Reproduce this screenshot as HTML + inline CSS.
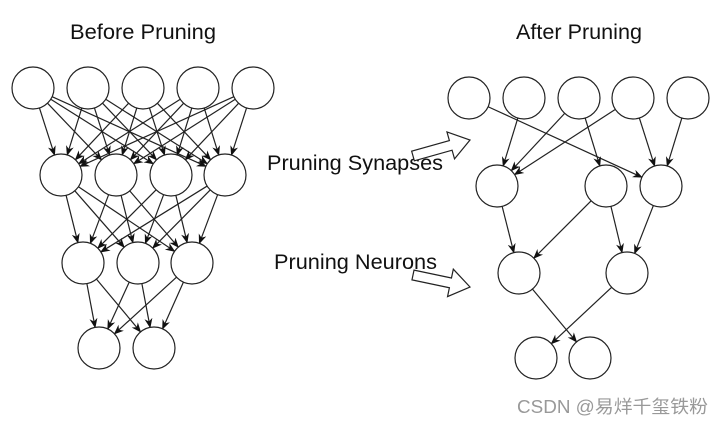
<!DOCTYPE html>
<html><head><meta charset="utf-8"><style>
html,body{margin:0;padding:0;background:#fff;}
svg{display:block;}
text{font-family:"Liberation Sans","Noto Sans CJK SC",sans-serif;}
</style></head><body>
<svg id="s" width="723" height="425" viewBox="0 0 723 425" xmlns="http://www.w3.org/2000/svg">
<defs><marker id="a" markerWidth="10" markerHeight="10" refX="9" refY="5" orient="auto" markerUnits="userSpaceOnUse"><path d="M0,1 L10,5 L0,9 L3,5 Z" fill="#111"/></marker></defs>
<text x="143" y="39" font-size="21" text-anchor="middle" fill="#111" textLength="146" lengthAdjust="spacingAndGlyphs">Before Pruning</text>
<text x="579" y="39" font-size="21" text-anchor="middle" fill="#111" textLength="126" lengthAdjust="spacingAndGlyphs">After Pruning</text>
<text x="267" y="170" font-size="21" fill="#111" textLength="176" lengthAdjust="spacingAndGlyphs">Pruning Synapses</text>
<text x="274" y="269" font-size="21" fill="#111" textLength="163" lengthAdjust="spacingAndGlyphs">Pruning Neurons</text>
<text x="517" y="413" font-size="18" fill="#999" textLength="191" lengthAdjust="spacingAndGlyphs">CSDN @易烊千玺铁粉</text>
<g id="g" stroke="#222" fill="none" stroke-width="1.2"></g>
</svg>
<script>
var g=document.getElementById('g'),NS='http://www.w3.org/2000/svg',R=21;
function el(n,a){var e=document.createElementNS(NS,n);for(var k in a)e.setAttribute(k,a[k]);g.appendChild(e);return e;}
function hollow(x1,y1,x2,y2){var dx=x2-x1,dy=y2-y1,L=Math.hypot(dx,dy),ux=dx/L,uy=dy/L,nx=-uy,ny=ux,hl=20,sw=5,hw=14;
var bx=x2-ux*hl,by=y2-uy*hl;var p=[[x1+nx*sw,y1+ny*sw],[bx+nx*sw,by+ny*sw],[bx+nx*hw,by+ny*hw],[x2,y2],[bx-nx*hw,by-ny*hw],[bx-nx*sw,by-ny*sw],[x1-nx*sw,y1-ny*sw]];
el('polygon',{points:p.map(function(q){return q.join(',')}).join(' '),fill:'#fff'});}
function edge(a,b){var dx=b[0]-a[0],dy=b[1]-a[1],L=Math.hypot(dx,dy),ux=dx/L,uy=dy/L;
el('line',{x1:a[0]+ux*R,y1:a[1]+uy*R,x2:b[0]-ux*R,y2:b[1]-uy*R,'marker-end':'url(#a)'});}
var L1=[[33,88],[88,88],[143,88],[198,88],[253,88]],L2=[[61,175],[116,175],[171,175],[225,175]],L3=[[83,263],[138,263],[192,263]],L4=[[99,348],[154,348]];
[[L1,L2],[L2,L3],[L3,L4]].forEach(function(p){p[0].forEach(function(a){p[1].forEach(function(b){edge(a,b);});});});
var T=[[469,98],[524,98],[579,98],[633,98],[688,98]],S=[[497,186],[606,186],[661,186]],U=[[519,273],[627,273]],V=[[536,358],[590,358]];
[[T[0],S[2]],[T[1],S[0]],[T[2],S[0]],[T[2],S[1]],[T[3],S[0]],[T[3],S[2]],[T[4],S[2]],[S[0],U[0]],[S[1],U[0]],[S[1],U[1]],[S[2],U[1]],[U[0],V[1]],[U[1],V[0]]].forEach(function(e){edge(e[0],e[1]);});
[].concat(L1,L2,L3,L4,T,S,U,V).forEach(function(c){el('circle',{cx:c[0],cy:c[1],r:R,fill:'#fff'});});
hollow(413,156,470,140);hollow(413,275,470,287);
</script>
</body></html>
